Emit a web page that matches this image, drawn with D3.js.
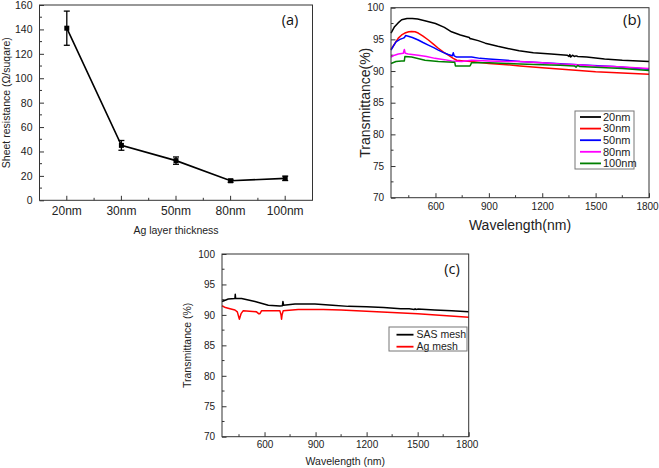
<!DOCTYPE html>
<html><head><meta charset="utf-8">
<script src="https://cdn.jsdelivr.net/npm/d3@7"></script>
<style>body{margin:0;background:#fff}svg{display:block;font-family:"Liberation Sans",Arial,sans-serif}</style>
</head><body><svg id="c" width="659" height="468"></svg>
<script>
// ---------- DATA ----------
// Panel (a)
const thickness = ["20nm","30nm","50nm","80nm","100nm"];
const sheetRes = [141, 45, 32.5, 16, 18];
const sheetErr = [14, 4, 3, 1.2, 1.8];
const resTicks = [0,20,40,60,80,100,120,140,160];

// Panel (b)
const wl20 = [350,370,390,410,440,470,500,540,600,650,690,740,790,795,800,840,880,950,1000,1070,1150,1250,1340,1350,1355,1360,1370,1380,1390,1400,1450,1550,1650,1800];
const t20  = [96.0,97.0,97.6,98.1,98.3,98.3,98.2,97.95,97.5,96.9,96.2,95.7,95.3,95.1,95.1,94.8,94.4,93.9,93.6,93.2,92.9,92.7,92.5,92.3,92.6,92.2,92.5,92.3,92.4,92.3,92.2,91.9,91.7,91.5];
const wl30 = [350,370,391,410,428,450,466,485,503,530,560,590,616,645,672,700,719,760,803,900,1000,1075,1200,1350,1500,1650,1800];
const t30  = [93.4,94.3,95.2,95.7,96.0,96.2,96.25,96.2,96.0,95.5,94.9,94.2,93.6,93.0,92.5,92.0,91.7,91.6,91.5,91.2,91.0,90.8,90.5,90.2,89.9,89.7,89.5];
const wl50 = [350,365,378,400,419,426,432,447,470,503,530,560,590,616,645,672,695,700,705,719,760,803,850,900,1000,1075,1200,1400,1600,1800];
const t50  = [93.3,94.0,94.6,95.0,95.2,95.3,95.6,95.5,95.3,94.9,94.5,94.1,93.7,93.3,92.9,92.6,92.4,92.9,92.4,92.2,92.2,92.2,92.0,91.9,91.7,91.5,91.3,91.0,90.7,90.3];
const wl80 = [350,370,391,419,425,430,447,503,550,597,650,691,747,803,900,1000,1075,1200,1300,1400,1500,1600,1800];
const t80  = [92.2,92.5,92.7,92.8,93.4,92.8,92.7,92.5,92.3,92.0,91.8,91.6,91.5,91.7,91.6,91.5,91.5,91.3,91.1,91.0,90.8,90.7,90.4];
const wl100 = [350,378,410,425,428,466,541,616,700,708,712,794,798,802,900,1000,1075,1200,1300,1380,1390,1400,1410,1500,1650,1800];
const t100  = [91.2,91.5,91.6,91.6,92.3,92.2,91.7,91.5,91.4,91.4,90.8,90.8,91.0,91.3,91.3,91.2,91.1,91.0,90.9,90.8,90.6,90.9,90.7,90.6,90.4,90.1];
const seriesB = ["20nm","30nm","50nm","80nm","100nm"];
const colorsB = ["#000000","#ff0000","#0000ff","#ff00ff","#008000"];

// Panel (c)
const wlSAS = [350,387,426,428,430,465,544,622,690,705,708,712,779,800,896,1000,1092,1200,1300,1400,1450,1480,1485,1490,1500,1600,1700,1800];
const tSAS  = [92.2,92.6,92.7,93.4,92.7,92.7,92.2,91.6,91.45,91.5,92.2,91.6,91.8,91.8,91.8,91.6,91.4,91.35,91.2,91.0,91.0,90.9,91.0,90.9,90.95,90.8,90.7,90.5];
const wlAg = [350,370,397,426,440,452,462,475,553,565,573,583,690,697,700,703,710,798,945,1050,1200,1350,1500,1650,1800];
const tAg  = [91.5,91.2,91.0,90.8,90.5,89.3,90.2,90.7,90.5,90.2,90.2,90.7,90.7,90.0,89.3,90.0,90.7,90.9,90.9,90.8,90.6,90.4,90.2,89.9,89.6];
const seriesC = ["SAS mesh","Ag mesh"];
const colorsC = ["#000000","#ff0000"];

const transTicks = [70,75,80,85,90,95,100];
const wlTicks = [600,900,1200,1500,1800];

// ---------- DRAW ----------
const svg = d3.select("#c");
const AX = "#333";

function frame(g, x0, x1, y0, y1){
  g.append("rect").attr("x",x0).attr("y",y0).attr("width",x1-x0).attr("height",y1-y0)
    .attr("fill","none").attr("stroke",AX).attr("stroke-width",1);
}
function inwardAxis(g, axis, transform, fs){
  const a = g.append("g").attr("transform",transform).call(axis);
  a.select(".domain").remove();
  a.selectAll("line").attr("stroke",AX);
  a.selectAll("text").attr("font-size",fs).attr("fill","#222");
  return a;
}

// ===== Panel (a) =====
(function(){
  const L=39.5,R=312.5,T=5,B=200.3;
  const g = svg.append("g");
  const x = d3.scaleBand().domain(thickness).range([L,R]);
  const y = d3.scaleLinear().domain([0,160]).range([B,T]);
  const xc = d => x(d)+x.bandwidth()/2;
  const minorX = thickness.slice(0,-1).map(d=>x(d)+x.bandwidth());
  g.selectAll(".mx").data(minorX).enter().append("line")
    .attr("x1",d=>d).attr("x2",d=>d).attr("y1",B).attr("y2",B-2.5).attr("stroke",AX);
  g.selectAll(".my").data(d3.range(10,160,20)).enter().append("line")
    .attr("x1",L).attr("x2",L+2.5).attr("y1",d=>y(d)).attr("y2",d=>y(d)).attr("stroke",AX);
  const xa = d3.axisBottom(x).tickSizeInner(-4.5).tickSizeOuter(0).tickPadding(6);
  inwardAxis(g, xa, `translate(0,${B})`, "12px");
  const ya = d3.axisLeft(y).tickValues(resTicks).tickSizeInner(-4.5).tickSizeOuter(0).tickPadding(7);
  inwardAxis(g, ya, `translate(${L},0)`, "10.5px");
  frame(g,L,R,T,B);
  const line = d3.line().x((d,i)=>xc(thickness[i])).y(d=>y(d));
  g.append("path").datum(sheetRes).attr("d",line).attr("fill","none").attr("stroke","#000").attr("stroke-width",1.6);
  const eb = g.selectAll(".eb").data(sheetRes).enter().append("g");
  eb.append("line").attr("x1",(d,i)=>xc(thickness[i])).attr("x2",(d,i)=>xc(thickness[i]))
    .attr("y1",(d,i)=>y(d-sheetErr[i])).attr("y2",(d,i)=>y(d+sheetErr[i])).attr("stroke","#000").attr("stroke-width",1.3);
  [-1,1].forEach(s=>{
    eb.append("line").attr("x1",(d,i)=>xc(thickness[i])-3).attr("x2",(d,i)=>xc(thickness[i])+3)
      .attr("y1",(d,i)=>y(d+s*sheetErr[i])).attr("y2",(d,i)=>y(d+s*sheetErr[i])).attr("stroke","#000").attr("stroke-width",1.3);
  });
  eb.append("rect").attr("x",(d,i)=>xc(thickness[i])-2.5).attr("y",d=>y(d)-2.5).attr("width",5).attr("height",5).attr("fill","#000");
  g.append("text").attr("x",(L+R)/2).attr("y",234).attr("text-anchor","middle").attr("font-size","10.5px").attr("fill","#222").text("Ag layer thickness");
  g.append("text").attr("transform",`translate(6,${(T+B)/2}) rotate(-90)`).attr("dy","0.35em").attr("text-anchor","middle").attr("font-size","10.5px").attr("fill","#222").text("Sheet resistance (Ω/suqare)");
  g.append("text").attr("x",290).attr("y",25).attr("text-anchor","middle").attr("font-size","14.5px").attr("font-family","'Open Sans',sans-serif").attr("fill","#111").text("(a)");
})();

// ===== Panels (b) and (c) =====
function transPanel(cfg){
  const {L,R,T,B,data,names,colors,fsTick,fsLabel,yLabel,xLabel,yLabX,xLabY,tag,tagX,tagY,tagFs,leg,padX} = cfg;
  const g = svg.append("g");
  const x = d3.scaleLinear().domain([350,1800]).range([L,R]);
  const y = d3.scaleLinear().domain([70,100]).range([B,T]);
  g.selectAll(".mx").data(d3.range(450,1800,300)).enter().append("line")
    .attr("x1",d=>x(d)).attr("x2",d=>x(d)).attr("y1",B).attr("y2",B-2.5).attr("stroke",AX);
  g.selectAll(".my").data(d3.range(72.5,100,5)).enter().append("line")
    .attr("x1",L).attr("x2",L+2.5).attr("y1",d=>y(d)).attr("y2",d=>y(d)).attr("stroke",AX);
  const xa = inwardAxis(g, d3.axisBottom(x).tickValues(wlTicks).tickFormat(d3.format("d")).tickSizeInner(-4.5).tickSizeOuter(0).tickPadding(padX), `translate(0,${B})`, fsTick);
  xa.selectAll("text").filter(d=>d===1800).attr("dx","-2px");
  inwardAxis(g, d3.axisLeft(y).tickValues(transTicks).tickSizeInner(-4.5).tickSizeOuter(0).tickPadding(7), `translate(${L},0)`, fsTick);
  const line = d3.line().x(d=>x(d[0])).y(d=>y(d[1]));
  data.forEach((s,i)=>{
    g.append("path").datum(s[0].map((w,j)=>[w,s[1][j]])).attr("d",line)
      .attr("fill","none").attr("stroke",colors[i]).attr("stroke-width",1.5).attr("stroke-linejoin","round");
  });
  frame(g,L,R,T,B);
  g.append("text").attr("x",(L+R)/2).attr("y",xLabY).attr("text-anchor","middle").attr("font-size",fsLabel).attr("fill","#222").text(xLabel);
  g.append("text").attr("transform",`translate(${yLabX},${(T+B)/2}) rotate(-90)`).attr("dy","0.35em").attr("text-anchor","middle").attr("font-size",fsLabel).attr("fill","#222").text(yLabel);
  g.append("text").attr("x",tagX).attr("y",tagY).attr("text-anchor","middle").attr("font-size",tagFs).attr("font-family","'Open Sans',sans-serif").attr("fill","#111").text(tag);
  g.append("rect").attr("x",leg.x0).attr("y",leg.y0).attr("width",leg.x1-leg.x0).attr("height",leg.y1-leg.y0)
    .attr("fill","#fff").attr("stroke","#777").attr("stroke-width",1);
  names.forEach((n,i)=>{
    const yy = leg.r0 + i*leg.dy;
    g.append("line").attr("x1",leg.lx0).attr("x2",leg.lx1).attr("y1",yy).attr("y2",yy).attr("stroke",colors[i]).attr("stroke-width",1.8);
    g.append("text").attr("x",leg.tx).attr("y",yy).attr("dy","0.35em").attr("font-size",leg.fs).attr("fill","#222").text(n);
  });
}

transPanel({L:391,R:649,T:7.7,B:197.7,
  data:[[wl20,t20],[wl30,t30],[wl50,t50],[wl80,t80],[wl100,t100]],
  names:seriesB, colors:colorsB, fsTick:"10px", fsLabel:"14px", padX:5,
  yLabel:"Transmittance(%)", xLabel:"Wavelength(nm)", yLabX:365, xLabY:230,
  tag:"(b)", tagX:632, tagY:25, tagFs:"15px",
  leg:{x0:575,x1:634,y0:111,y1:169,r0:117,dy:11.6,lx0:580,lx1:601,tx:603,fs:"11px"}});

transPanel({L:222,R:468.7,T:254,B:436.7,
  data:[[wlSAS,tSAS],[wlAg,tAg]],
  names:seriesC, colors:colorsC, fsTick:"10px", fsLabel:"10.5px", padX:4,
  yLabel:"Transmittance (%)", xLabel:"Wavelength (nm)", yLabX:187, xLabY:465,
  tag:"(c)", tagX:452, tagY:274, tagFs:"14.5px",
  leg:{x0:389,x1:467,y0:327,y1:351,r0:334.7,dy:12,lx0:396.5,lx1:413.5,tx:416.5,fs:"10.5px"}});
</script></body></html>
